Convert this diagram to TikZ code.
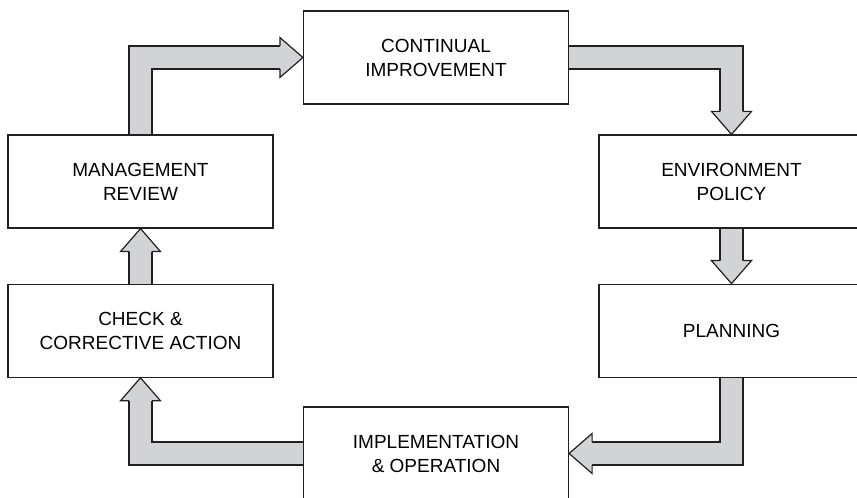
\documentclass[tikz,border=0pt]{standalone}
\usepackage{fontspec}
\setmainfont{Liberation Sans}
\usetikzlibrary{positioning,calc,backgrounds}
\definecolor{ink}{HTML}{231F20}
\definecolor{band}{HTML}{D1D3D4}
\tikzset{
  stage/.style={draw=ink,line width=0.6pt,fill=white,align=center,
    minimum width=132.5pt,minimum height=46.5pt,inner sep=0pt,
    font=\fontsize{9.5}{12}\selectfont},
  shaft/.style={draw=ink,line width=0.6pt,double=band,double distance=10.9pt,
    line join=miter},
  headtip/.pic={\filldraw[fill=band,draw=ink,line width=0.6pt,line join=miter]
    (-23,11.5) -- (-23,20) -- (0,0) -- (-23,-20) -- (-23,-11.5);}
}

\begin{document}
\begin{tikzpicture}[x=0.5pt,y=0.5pt,node distance=27.5pt]
  \useasboundingbox (0,0) rectangle (857,498);
  \clip (0,0) rectangle (857,498);
  % stages of the cycle
  \node[stage] (ci) at (436,440.5) {CONTINUAL\\IMPROVEMENT};
  \node[stage] (mr) at (140.5,316.5) {MANAGEMENT\\REVIEW};
  \node[stage] (ep) at (731.5,316.5) {ENVIRONMENT\\POLICY};
  \node[stage,below=of mr] (chk) {CHECK \&\\CORRECTIVE ACTION};
  \node[stage,below=of ep] (plan) {PLANNING};
  \node[stage] (impl) at (436,44.5) {IMPLEMENTATION\\\& OPERATION};
  % block arrows
  \begin{scope}[on background layer]
    \draw[shaft] (mr.north) |- ($(ci.west)+(-22,0)$);
    \pic at (ci.west) {headtip};
    \draw[shaft] (ci.east) -| ($(ep.north)+(0,22)$);
    \pic[rotate=-90] at (ep.north) {headtip};
    \draw[shaft] (ep.south) -- ($(plan.north)+(0,22)$);
    \pic[rotate=-90] at (plan.north) {headtip};
    \draw[shaft] (plan.south) |- ($(impl.east)+(22,0)$);
    \pic[rotate=180] at (impl.east) {headtip};
    \draw[shaft] (impl.west) -| ($(chk.south)+(0,-22)$);
    \pic[rotate=90] at (chk.south) {headtip};
    \draw[shaft] (chk.north) -- ($(mr.south)+(0,-22)$);
    \pic[rotate=90] at (mr.south) {headtip};
  \end{scope}
\end{tikzpicture}
\end{document}
